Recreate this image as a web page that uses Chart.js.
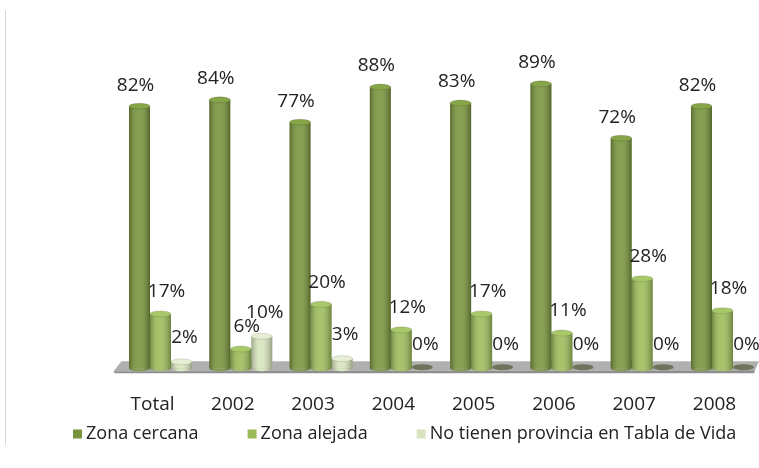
<!DOCTYPE html>
<html>
<head>
<meta charset="utf-8">
<script src="https://cdn.jsdelivr.net/npm/chart.js@4/dist/chart.umd.min.js"></script>
<style>
  html, body { margin: 0; padding: 0; background: #ffffff; }
  #wrap { width: 759px; height: 468px; position: relative; }
</style>
</head>
<body>
<div id="wrap"><canvas id="c" width="759" height="468"></canvas></div>
<script>
// ---- data ----
const categories = ["Total", "2002", "2003", "2004", "2005", "2006", "2007", "2008"];
const seriesNames = ["Zona cercana", "Zona alejada", "No tienen provincia en Tabla de Vida"];
const zonaCercana = [82, 84, 77, 88, 83, 89, 72, 82];
const zonaAlejada = [17, 6, 20, 12, 17, 11, 28, 18];
const sinProvincia = [2, 10, 3, 0, 0, 0, 0, 0];
const seriesColors = ["#77933C", "#9BBB59", "#D7E4BD"];
const capColors = ["#86a448", "#a9c86a", "#e6efd4"];
const labelShift = [[-4, -21], [6, -22], [3, -24]];

const FONT = '"Open Sans", "Liberation Sans", sans-serif';

const cylinderPlugin = {
  id: 'cylinders',
  beforeDraw(chart) {
    const ctx = chart.ctx;
    ctx.save();
    ctx.strokeStyle = '#d9d9d9';
    ctx.lineWidth = 1;
    ctx.beginPath();
    ctx.moveTo(5.5, 10);
    ctx.lineTo(5.5, 445);
    ctx.stroke();
    ctx.restore();
  },
  beforeDatasetsDraw(chart) {
    const ctx = chart.ctx;
    const xs = chart.scales.x, ys = chart.scales.y;
    const base = ys.getPixelForValue(0);
    const left = xs.getPixelForValue(0) - 47;
    const right = chart.width;
    ctx.save();
    ctx.fillStyle = '#b0b0b0';
    ctx.beginPath();
    ctx.moveTo(left + 8, base - 7);
    ctx.lineTo(right, base - 7);
    ctx.lineTo(right - 4, base + 2);
    ctx.lineTo(left, base + 3);
    ctx.closePath();
    ctx.fill();
    ctx.fillStyle = '#8e8e8e';
    ctx.beginPath();
    ctx.moveTo(left, base + 3);
    ctx.lineTo(right - 4, base + 2);
    ctx.lineTo(right - 5, base + 5);
    ctx.lineTo(left + 1, base + 5);
    ctx.closePath();
    ctx.fill();
    ctx.restore();
  },
  afterDatasetsDraw(chart) {
    const ctx = chart.ctx;
    const ys = chart.scales.y;
    const base = ys.getPixelForValue(0);
    ctx.save();
    chart.data.datasets.forEach((ds, di) => {
      const meta = chart.getDatasetMeta(di);
      meta.data.forEach((bar, i) => {
        const v = ds.data[i];
        const w = bar.width;
        const l = bar.x - w / 2;
        const r = bar.x + w / 2;
        if (v > 0) {
          const g = ctx.createLinearGradient(l, 0, r, 0);
          g.addColorStop(0, 'rgba(0,0,0,0.28)');
          g.addColorStop(0.35, 'rgba(255,255,255,0.10)');
          g.addColorStop(0.55, 'rgba(255,255,255,0.12)');
          g.addColorStop(1, 'rgba(0,0,0,0.30)');
          ctx.fillStyle = seriesColors[di];
          ctx.beginPath();
          ctx.ellipse(bar.x, base, w / 2, 3, 0, 0, Math.PI);
          ctx.fill();
          ctx.fillStyle = g;
          ctx.beginPath();
          ctx.rect(l, bar.y, w, base - bar.y);
          ctx.ellipse(bar.x, base, w / 2, 3, 0, 0, Math.PI);
          ctx.fill();
          ctx.fillStyle = capColors[di];
          ctx.beginPath();
          ctx.ellipse(bar.x, bar.y, w / 2, 3, 0, 0, Math.PI * 2);
          ctx.fill();
          ctx.strokeStyle = 'rgba(0,0,0,0.15)';
          ctx.lineWidth = 0.8;
          ctx.stroke();
        } else {
          ctx.fillStyle = 'rgba(85,98,62,0.75)';
          ctx.beginPath();
          ctx.ellipse(bar.x, base - 1, w / 2, 3, 0, 0, Math.PI * 2);
          ctx.fill();
        }
        ctx.fillStyle = '#222222';
        ctx.font = '19px ' + FONT;
        ctx.textAlign = 'center';
        ctx.textBaseline = 'middle';
        ctx.fillText(v + '%', bar.x + labelShift[di][0], bar.y + labelShift[di][1]);
      });
    });
    ctx.restore();
  },
  afterDraw(chart) {
    const ctx = chart.ctx;
    ctx.save();
    ctx.font = '18px ' + FONT;
    ctx.textBaseline = 'middle';
    ctx.textAlign = 'left';
    let x = 73;
    const yc = 434;
    chart.data.datasets.forEach((ds, di) => {
      ctx.fillStyle = seriesColors[di];
      ctx.fillRect(x, yc - 4.5, 9, 9);
      ctx.fillStyle = '#222222';
      ctx.fillText(ds.label, x + 13, yc);
      x += 13 + ctx.measureText(ds.label).width + 49;
    });
    ctx.restore();
  }
};

const datasets = [zonaCercana, zonaAlejada, sinProvincia].map((arr, i) => ({
  label: seriesNames[i],
  data: arr,
  backgroundColor: seriesColors[i],
  borderWidth: 0,
  clip: false,
  categoryPercentage: 0.785,
  barPercentage: 1.0
}));

new Chart(document.getElementById('c'), {
  type: 'bar',
  data: { labels: categories, datasets },
  plugins: [cylinderPlugin],
  options: {
    responsive: false,
    animation: false,
    devicePixelRatio: 1,
    layout: { padding: { left: 160.5, right: 36.5, top: 48.7, bottom: 53.8 } },
    plugins: {
      tooltip: { enabled: false },
      legend: { display: false }
    },
    scales: {
      x: {
        offset: false,
        grid: { display: false, drawTicks: false },
        border: { display: false },
        ticks: {
          font: { family: FONT, size: 19 },
          color: '#222222',
          padding: 25,
          labelOffset: -8,
          maxRotation: 0,
          autoSkip: false
        },
        afterFit(s) { s.height = 46; s.paddingLeft = 0; s.paddingRight = 0; }
      },
      y: {
        display: false,
        min: 0, max: 100
      }
    }
  }
});
</script>
</body>
</html>
